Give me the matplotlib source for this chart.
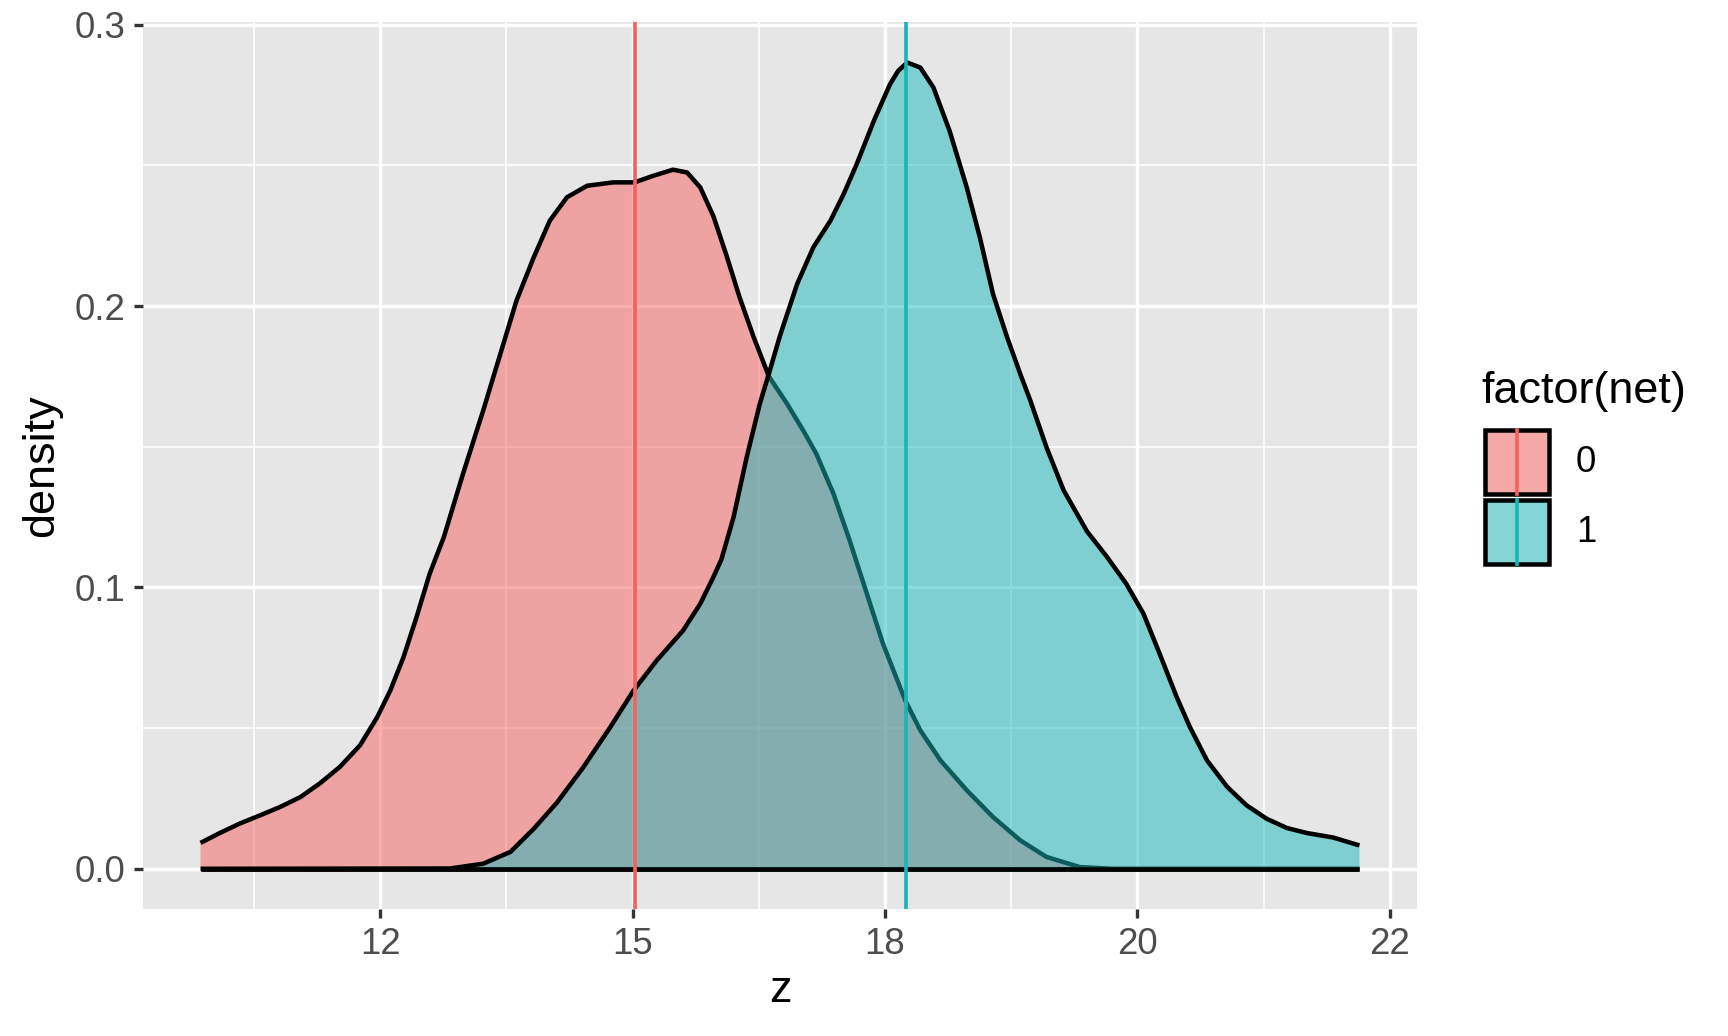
import matplotlib.pyplot as plt
from matplotlib.patches import Rectangle
from matplotlib.lines import Line2D
from matplotlib.colors import to_rgba

plt.rcParams['font.family'] = ['Liberation Sans', 'DejaVu Sans']

# density of z for net = 0
z0 = [10.22, 10.41, 10.61, 10.81, 11.01, 11.21, 11.40, 11.60, 11.80, 11.97,
      12.10, 12.23, 12.36, 12.49, 12.63, 12.82, 13.02, 13.22, 13.35, 13.52,
      13.68, 13.85, 14.05, 14.31, 14.52, 14.71, 14.90, 15.04, 15.17, 15.30,
      15.43, 15.56, 15.70, 15.85, 16.03, 16.19, 16.32, 16.49, 16.65, 16.82,
      16.98, 17.20, 17.35, 17.55, 17.81, 18.07, 18.34, 18.60, 18.93, 19.26,
      21.70]
d0 = [0.0092, 0.0127, 0.0161, 0.0190, 0.0220, 0.0255, 0.0303, 0.0362, 0.0439, 0.0539,
      0.0634, 0.0752, 0.0895, 0.1049, 0.1179, 0.1404, 0.1629, 0.1866, 0.2020, 0.2173,
      0.2304, 0.2387, 0.2428, 0.2440, 0.2440, 0.2464, 0.2485, 0.2475, 0.2422, 0.2320,
      0.2180, 0.2031, 0.1889, 0.1750, 0.1653, 0.1558, 0.1475, 0.1333, 0.1167, 0.0978,
      0.0800, 0.0599, 0.0492, 0.0385, 0.0279, 0.0184, 0.0101, 0.0042, 0.0006, 0.0,
      0.0]

# density of z for net = 1
z1 = [10.22, 12.69, 13.02, 13.29, 13.52, 13.75, 14.01, 14.28, 14.51, 14.74,
      15.00, 15.17, 15.30, 15.38, 15.50, 15.63, 15.76, 15.85, 15.96, 16.13,
      16.29, 16.46, 16.59, 16.72, 16.89, 17.05, 17.13, 17.22, 17.35, 17.48,
      17.64, 17.81, 17.94, 18.07, 18.21, 18.34, 18.44, 18.60, 18.77, 19.00,
      19.20, 19.39, 19.56, 19.72, 19.89, 20.02, 20.19, 20.39, 20.58, 20.78,
      20.98, 21.18, 21.44, 21.70]
d1 = [0.0, 0.0001, 0.0018, 0.0060, 0.0142, 0.0235, 0.0360, 0.0504, 0.0634, 0.0741,
      0.0847, 0.0942, 0.1037, 0.1100, 0.1250, 0.1463, 0.1653, 0.1760, 0.1895, 0.2079,
      0.2209, 0.2304, 0.2398, 0.2505, 0.2659, 0.2789, 0.2836, 0.2866, 0.2848, 0.2777,
      0.2623, 0.2422, 0.2244, 0.2043, 0.1889, 0.1759, 0.1664, 0.1498, 0.1345, 0.1200,
      0.1108, 0.1013, 0.0907, 0.0765, 0.0610, 0.0504, 0.0385, 0.0291, 0.0226, 0.0178,
      0.0145, 0.0127, 0.0111, 0.0083]

groups = ['0', '1']
means = [14.52, 17.21]
fill_colors = ['#F75F5D', '#19B9BB']
line_colors = ['#F3625C', '#16B5B8']

x_breaks = [12, 14.5, 17, 19.5, 22]
x_labels = ['12', '15', '18', '20', '22']
y_breaks = [0.0, 0.1, 0.2, 0.3]
y_labels = ['0.0', '0.1', '0.2', '0.3']

W, H = 1728, 1036
fig = plt.figure(figsize=(W / 240, H / 240), dpi=240)
ax = fig.add_axes([143 / W, 1 - 909 / H, (1417 - 143) / W, (909 - 22) / H])
ax.set_facecolor('#E6E6E6')
for s in ax.spines.values():
    s.set_visible(False)

# densities, drawn group by group like ggplot does (upper and lower outline only)
for z, d, c in zip([z0, z1], [d0, d1], fill_colors):
    ax.fill_between(z, d, 0, facecolor=c, alpha=0.5, lw=0, zorder=2)
    ax.plot(z, d, color='black', lw=1.35, zorder=2, solid_capstyle='butt',
            solid_joinstyle='round')
    ax.plot([z[0], z[-1]], [0, 0], color='black', lw=1.35, zorder=2, solid_capstyle='butt')

for m, c in zip(means, line_colors):
    ax.axvline(m, color=c, lw=1.1, zorder=3)

ax.set_xlim(9.65, 22.27)
ax.set_ylim(-0.0143, 0.301)
ax.set_xticks(x_breaks)
ax.set_xticklabels(x_labels)
ax.set_yticks(y_breaks)
ax.set_yticklabels(y_labels)
ax.set_xticks([(a + b) / 2 for a, b in zip([9.5] + x_breaks[:-1], x_breaks)], minor=True)
ax.set_yticks([0.05, 0.15, 0.25], minor=True)
ax.grid(which='major', color='white', lw=1.0, zorder=1)
ax.grid(which='minor', color='white', lw=0.5, zorder=1)
ax.set_axisbelow(True)
ax.tick_params(which='major', length=2.75, width=1.0, color='#333333',
               labelsize=11, labelcolor='#4D4D4D', pad=2.5)
ax.tick_params(which='minor', length=0)

ax.set_xlabel('z', fontsize=13.5, va='center')
ax.xaxis.set_label_coords(0.5, (909 - 990) / (909 - 22))
ax.set_ylabel('density', fontsize=13.5, va='center')
ax.yaxis.set_label_coords((42 - 143) / (1417 - 143), 0.5)

# legend drawn by hand to look like the ggplot key
tf = fig.transFigure
fig.text(1481 / W, 1 - 391 / H, 'factor(net)', fontsize=13.5, ha='left', va='center')
key_w, key_h = 64, 64
for i, (g, c, lc) in enumerate(zip(groups, fill_colors, line_colors)):
    top = 430 + i * (key_h + 6)
    x0, y0 = 1485 / W, 1 - (top + key_h) / H
    fig.add_artist(Rectangle((x0, y0), key_w / W, key_h / H, transform=tf,
                             facecolor='#F2F2F2', edgecolor='none'))
    fig.add_artist(Rectangle((x0, y0), key_w / W, key_h / H, transform=tf,
                             facecolor=to_rgba(c, 0.5), edgecolor='black', lw=1.35))
    xm = (1485 + key_w / 2) / W
    fig.add_artist(Line2D([xm, xm], [y0, y0 + key_h / H], transform=tf, color=lc, lw=1.1))
    fig.text(1576 / W, 1 - (top + key_h / 2) / H, g, fontsize=11, ha='left', va='center')

fig.savefig('out.png', dpi=240)
